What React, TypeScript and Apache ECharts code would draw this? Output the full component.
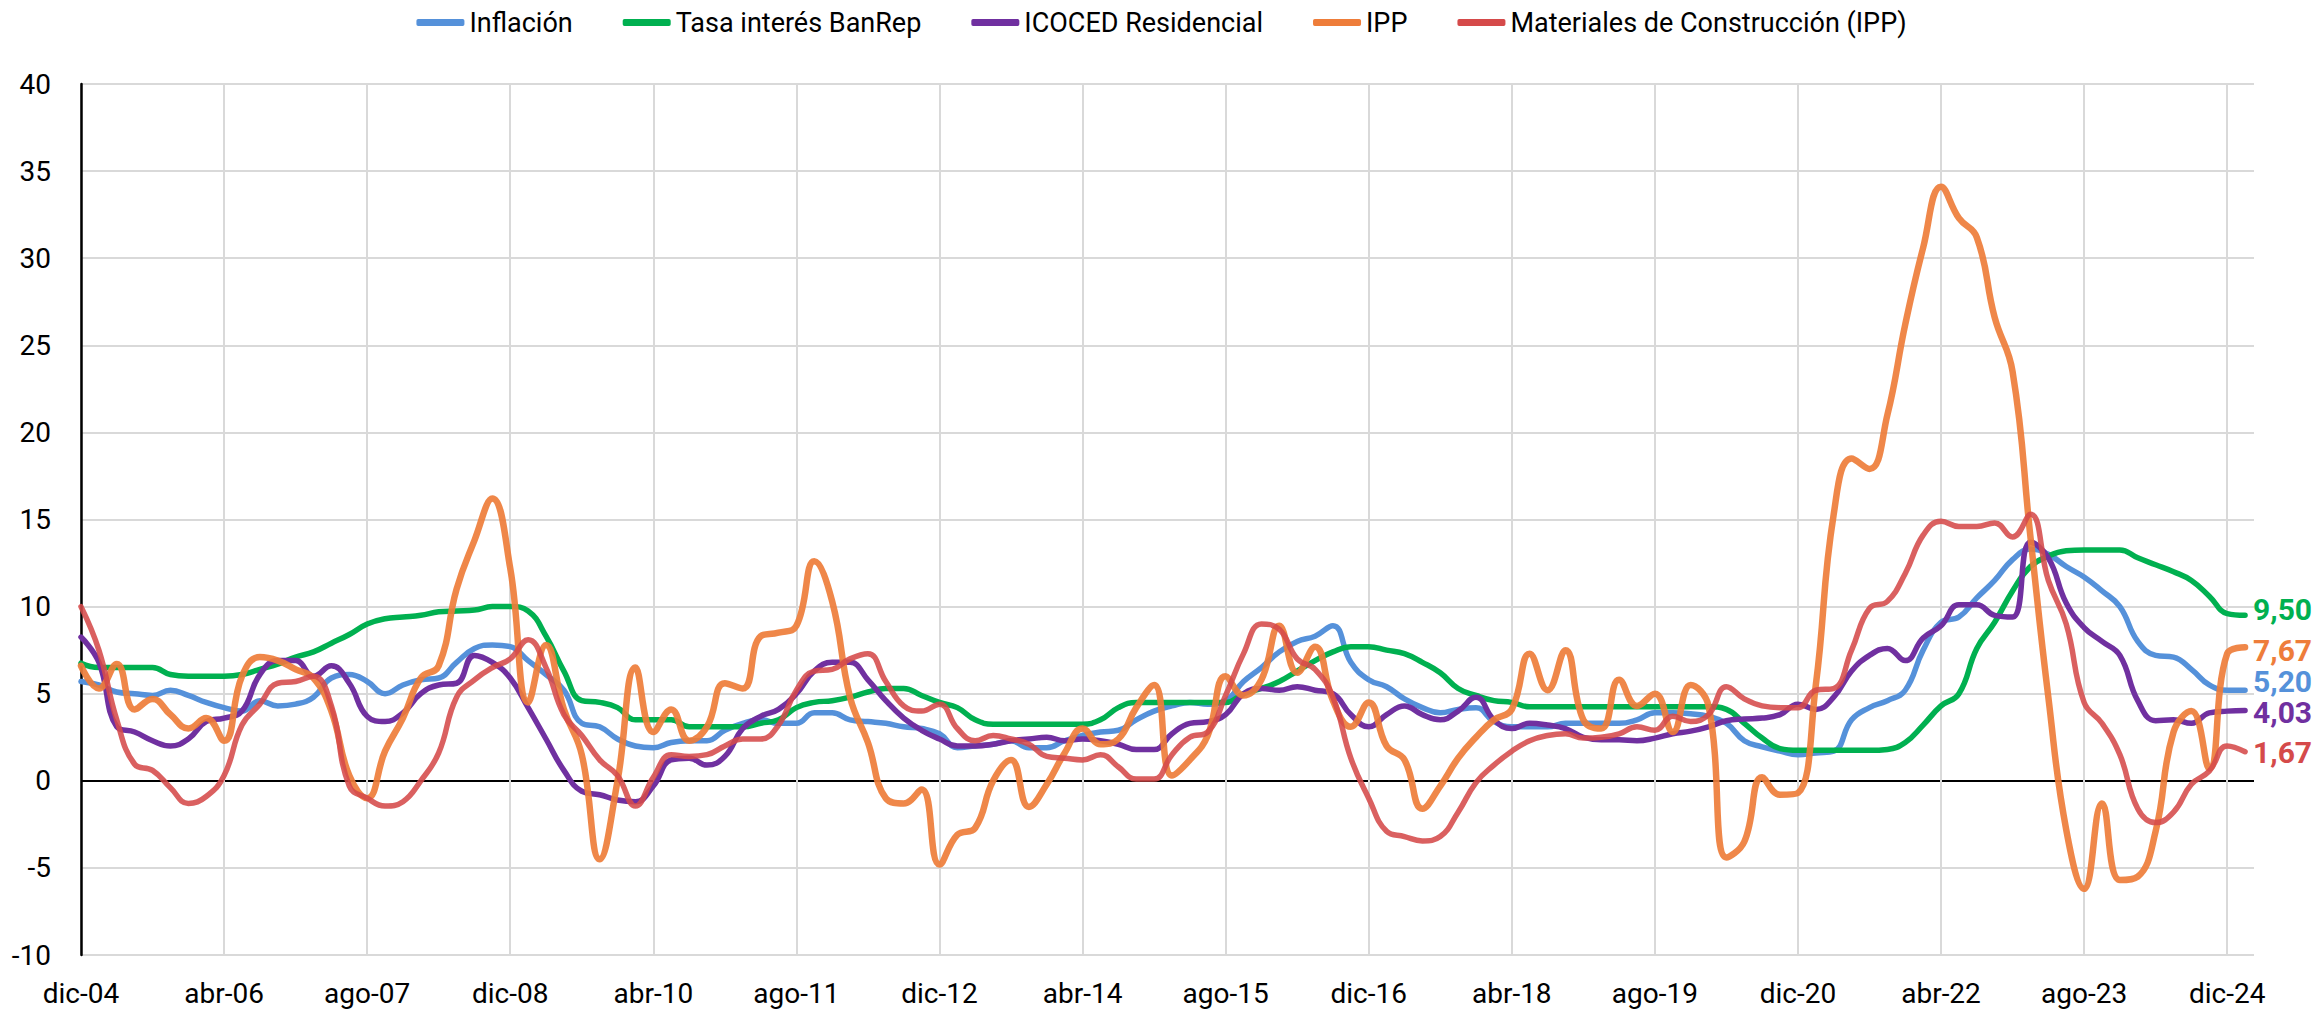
import React, { useEffect, useRef } from 'react';
import * as echarts from 'echarts';

// ---- categories (monthly, dic-04 .. mar-25) ----
const MONTH_NAMES = ['ene', 'feb', 'mar', 'abr', 'may', 'jun', 'jul', 'ago', 'sep', 'oct', 'nov', 'dic'];
const START_YEAR = 2004;
const START_MONTH_INDEX = 11; // dic
const MONTH_COUNT = 244;
const categories: string[] = Array.from({ length: MONTH_COUNT }, (_, k) => {
  const t = START_MONTH_INDEX + k;
  const yr = START_YEAR + Math.floor(t / 12);
  return `${MONTH_NAMES[t % 12]}-${String(yr % 100).padStart(2, '0')}`;
});

// ---- series values, read every two months (dic-04, feb-05, ... feb-25) ----
const inflacion = [
  5.7, 5.5, 5.1, 5.0, 4.9, 5.2, 4.9, 4.5, 4.2, 4.0,
  4.6, 4.3, 4.4, 4.8, 5.9, 6.1, 5.7, 5.0, 5.5, 5.8,
  5.9, 6.8, 7.6, 7.8, 7.7, 6.9, 6.1, 5.2, 3.3, 3.1,
  2.4, 2.0, 1.9, 2.2, 2.3, 2.3, 2.9, 3.3, 3.5, 3.3,
  3.3, 3.9, 3.9, 3.5, 3.4, 3.3, 3.1, 3.0, 2.7, 1.9,
  2.0, 2.1, 2.3, 1.9, 1.9, 2.3, 2.6, 2.8, 2.9, 3.5,
  4.0, 4.3, 4.5, 4.4, 4.6, 5.7, 6.5, 7.4, 8.0, 8.3,
  8.9, 6.8, 5.8, 5.4, 4.7, 4.2, 3.9, 4.1, 4.2, 3.4,
  3.1, 3.1, 3.1, 3.3, 3.3, 3.3, 3.3, 3.5, 3.9, 3.9,
  3.85, 3.7, 3.3, 2.3, 1.95, 1.7, 1.5, 1.6, 1.7, 3.5,
  4.2, 4.6, 5.2, 7.5, 9.1, 9.4, 10.5, 11.5, 12.7, 13.3,
  13.0, 12.3, 11.7, 10.9, 10.0, 8.0, 7.2, 7.1, 6.4, 5.5,
  5.2, 5.2,
];

const tasaBanRep = [
  6.75, 6.5, 6.5, 6.5, 6.5, 6.1, 6.0, 6.0, 6.0, 6.1,
  6.4, 6.7, 7.1, 7.4, 7.9, 8.4, 9.0, 9.3, 9.4, 9.5,
  9.7, 9.75, 9.8, 10.0, 10.0, 9.75, 8.3, 6.3, 4.6, 4.5,
  4.2, 3.5, 3.5, 3.5, 3.1, 3.1, 3.1, 3.1, 3.3, 3.5,
  4.2, 4.5, 4.6, 4.8, 5.1, 5.3, 5.3, 4.9, 4.5, 4.2,
  3.5, 3.25, 3.25, 3.25, 3.25, 3.25, 3.25, 3.5, 4.2, 4.5,
  4.5, 4.5, 4.5, 4.5, 4.5, 5.0, 5.3, 5.7, 6.3, 6.9,
  7.4, 7.7, 7.7, 7.5, 7.3, 6.8, 6.2, 5.3, 4.9, 4.6,
  4.5, 4.25, 4.25, 4.25, 4.25, 4.25, 4.25, 4.25, 4.25, 4.25,
  4.25, 4.25, 4.1, 3.3, 2.45, 1.85, 1.75, 1.75, 1.75, 1.75,
  1.75, 1.8, 2.2, 3.2, 4.3, 5.0, 7.6, 9.1, 10.9, 12.3,
  12.9, 13.2, 13.25, 13.25, 13.25, 12.8, 12.4, 12.0, 11.5, 10.6,
  9.6, 9.5,
];

const icoced = [
  8.25, 6.8, 3.1, 2.8, 2.3, 2.0, 2.4, 3.4, 3.6, 4.0,
  6.1, 6.9, 6.9, 6.0, 6.6, 5.6, 3.7, 3.4, 3.9, 5.0,
  5.5, 5.6, 7.2, 6.8, 5.9, 4.2, 2.4, 0.6, -0.6, -0.8,
  -1.1, -1.2, -0.3, 1.2, 1.3, 0.9, 1.4, 3.0, 3.7, 4.1,
  5.0, 6.3, 6.8, 6.8, 5.8, 4.6, 3.6, 2.9, 2.4, 2.0,
  2.0, 2.1, 2.3, 2.4, 2.5, 2.3, 2.4, 2.3, 2.1, 1.8,
  1.8, 2.7, 3.3, 3.4, 3.8, 5.0, 5.3, 5.2, 5.4, 5.2,
  5.0, 3.8, 3.1, 3.8, 4.3, 3.8, 3.5, 4.0, 4.8, 3.5,
  3.0, 3.3, 3.2, 3.0, 2.5, 2.35, 2.35, 2.3, 2.45, 2.7,
  2.85, 3.1, 3.45, 3.55, 3.6, 3.8, 4.4, 4.1, 4.8, 6.3,
  7.2, 7.6, 6.9, 8.2, 8.9, 10.1, 10.1, 9.5, 9.4, 13.7,
  12.8, 10.2, 8.8, 8.0, 7.2, 4.6, 3.45, 3.5, 3.3, 3.9,
  4.0, 4.03,
];

const ipp = [
  6.6, 5.3, 6.7, 4.1, 4.7, 3.8, 3.0, 3.6, 2.3, 6.0,
  7.1, 6.9, 6.4, 5.9, 4.0, 0.3, -1.0, 1.7, 3.6, 5.9,
  6.6, 11.0, 13.8, 16.2, 12.2, 4.5, 7.8, 4.1, 1.5, -4.5,
  0.0, 6.5, 2.8, 4.1, 2.3, 3.1, 5.6, 5.3, 8.3, 8.5,
  8.9, 12.6, 10.3, 4.8, 2.2, -1.0, -1.3, -0.5, -4.8, -3.1,
  -2.7, 0.0, 1.2, -1.5, -0.2, 1.6, 3.0, 2.1, 2.4, 4.2,
  5.5, 0.3, 1.2, 2.6, 6.0, 4.9, 5.8, 8.9, 6.2, 7.7,
  4.6, 3.1, 4.5, 2.0, 1.2, -1.6, -0.3, 1.3, 2.5, 3.5,
  4.1, 7.3, 5.2, 7.5, 3.5, 3.0, 5.8, 4.3, 5.0, 2.8,
  5.5, 4.3, -4.4, -3.5, 0.2, -0.8, -0.7, 5.5, 15.3, 18.5,
  17.9, 21.0, 26.2, 30.6, 34.1, 32.3, 31.2, 26.6, 23.5, 14.0,
  4.8, -2.8, -6.2, -1.3, -5.7, -5.5, -2.9, 2.8, 4.0, 0.7,
  7.3, 7.67,
];

const materiales = [
  10.0, 7.5, 3.5, 0.95, 0.6, -0.4, -1.3, -0.9, 0.3, 3.2,
  4.4, 5.6, 5.7, 6.0, 4.3, -0.3, -1.0, -1.45, -1.2, 0.0,
  1.6, 4.8, 5.8, 6.5, 7.0, 8.1, 6.5, 3.8, 2.6, 1.2,
  0.3, -1.45, 0.2, 1.5, 1.4, 1.5, 2.0, 2.4, 2.4, 3.2,
  5.2, 6.3, 6.4, 7.0, 7.3, 5.7, 4.3, 4.0, 4.4, 3.0,
  2.3, 2.6, 2.4, 2.1, 1.4, 1.3, 1.2, 1.5, 0.8, 0.1,
  0.1, 1.5, 2.5, 2.8, 4.9, 7.3, 9.0, 8.7, 7.0, 6.4,
  4.8, 1.3, -1.0, -2.9, -3.2, -3.45, -3.2, -1.8, -0.1, 0.9,
  1.7, 2.3, 2.6, 2.7, 2.45, 2.5, 2.7, 3.1, 2.9, 3.7,
  3.4, 3.8, 5.4, 4.7, 4.3, 4.2, 4.2, 5.2, 5.3, 7.5,
  9.9, 10.3, 11.9, 14.1, 14.9, 14.6, 14.6, 14.8, 14.0, 15.3,
  11.5, 9.0, 4.5, 3.3, 1.5, -1.6, -2.4, -1.8, -0.2, 0.55,
  2.0, 1.67,
];

const seriesNames = [
  'Inflación',
  'Tasa interés BanRep',
  'ICOCED Residencial',
  'IPP',
  'Materiales de Construcción (IPP)',
];
const seriesValues = [inflacion, tasaBanRep, icoced, ipp, materiales];
const seriesColors = ['#5591DA', '#00B050', '#7030A0', '#EE7D3A', '#D54A4A'];
const seriesWidths = [5.5, 5.5, 5.5, 6.5, 5.5];
const seriesOpacity = [1, 1, 1, 0.92, 0.88];
const endLabelOffsets = [
  [0, -9],
  [0, -6],
  [0, 2],
  [0, 3],
  [0, 1],
];

// values are bimonthly; place them on the monthly category axis
const toMonthly = (vals: number[]) => {
  const out: (number | null)[] = [];
  for (let i = 0; i < vals.length; i++) {
    out.push(vals[i]);
    if (i < vals.length - 1) out.push(null);
  }
  return out;
};

const fmt = (v: number) => v.toFixed(2).replace('.', ',');

const yGridColors = [
  '#d9d9d9', '#d9d9d9', '#000000', '#d9d9d9', '#d9d9d9', '#d9d9d9',
  '#d9d9d9', '#d9d9d9', '#d9d9d9', '#d9d9d9', '#d9d9d9',
];

const FONT = 'Roboto, "Noto Sans", sans-serif';

export default function App() {
  const ref = useRef<HTMLDivElement>(null);
  useEffect(() => {
    if (!ref.current) return;
    const chart = echarts.init(ref.current, undefined, { renderer: 'svg' });
    const option: any = {
      animation: false,
      backgroundColor: '#ffffff',
      textStyle: { fontFamily: FONT },
      legend: {
        data: seriesNames,
        top: 4,
        left: 'center',
        icon: 'roundRect',
        itemWidth: 48,
        itemHeight: 7,
        itemGap: 50,
        textStyle: { fontSize: 27, color: '#000', fontFamily: FONT },
      },
      grid: {
        left: 81,
        right: 69,
        top: 84,
        bottom: 65,
        containLabel: false,
        outerBoundsMode: 'none',
      },
      xAxis: {
        type: 'category',
        data: categories,
        boundaryGap: false,
        axisLine: { show: false },
        axisTick: { show: false },
        axisLabel: {
          interval: 15,
          fontSize: 28,
          color: '#000',
          margin: 24,
          fontFamily: FONT,
        },
        splitLine: {
          show: true,
          interval: 15,
          lineStyle: { color: '#d9d9d9', width: 2 },
        },
      },
      yAxis: {
        type: 'value',
        min: -10,
        max: 40,
        interval: 5,
        axisLine: { show: true, lineStyle: { color: '#000', width: 2.5 } },
        axisTick: { show: false },
        axisLabel: { fontSize: 28, color: '#000', margin: 30, fontFamily: FONT },
        splitLine: { show: true, lineStyle: { color: yGridColors, width: 2 } },
      },
      series: seriesNames.map((name, idx) => ({
        name,
        type: 'line',
        data: toMonthly(seriesValues[idx]),
        connectNulls: true,
        smooth: 0.45,
        symbol: 'none',
        showSymbol: false,
        z: 2 + idx,
        lineStyle: {
          color: seriesColors[idx],
          width: seriesWidths[idx],
          opacity: seriesOpacity[idx],
          cap: 'round',
          join: 'round',
        },
        itemStyle: { color: seriesColors[idx] },
        endLabel: {
          show: true,
          formatter: (p: any) => fmt(Array.isArray(p.value) ? p.value[1] : p.value),
          color: seriesColors[idx],
          fontSize: 30,
          fontWeight: 'bold',
          fontFamily: FONT,
          distance: 8,
          offset: endLabelOffsets[idx],
        },
      })),
    };
    chart.setOption(option);
    return () => chart.dispose();
  }, []);
  return (
    <div
      ref={ref}
      style={{ position: 'absolute', left: 0, top: 0, width: 2323, height: 1020, background: '#fff' }}
    />
  );
}
